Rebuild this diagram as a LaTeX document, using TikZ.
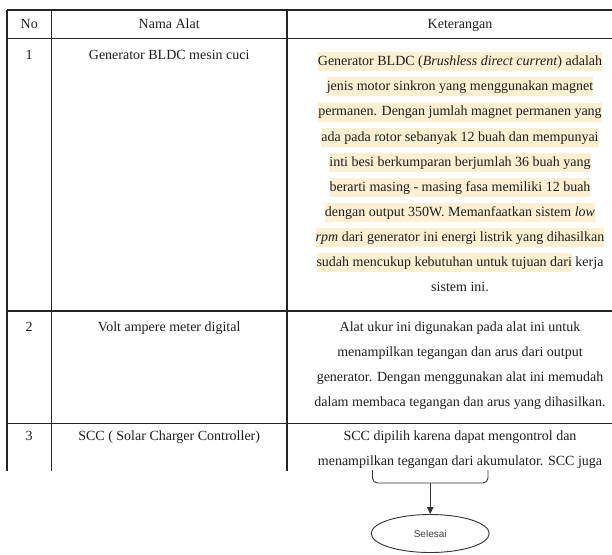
\documentclass[tikz,border=0pt]{standalone}
\usepackage{fontspec}
\setmainfont{Liberation Serif}
\setsansfont{Liberation Sans}
\usetikzlibrary{shapes.geometric,arrows.meta}
\definecolor{hlc}{HTML}{FCEFD2}
\definecolor{ink}{HTML}{1E1E1E}
% highlighted run of text, band 19pt tall around the baseline
\newcommand{\hlrun}[1]{{\setlength{\fboxsep}{0pt}\colorbox{hlc}{\rule[-5.6pt]{0pt}{19pt}#1}}}
\tikzset{
  grid/.style={line width=1.2pt, draw=black!85},
  cell/.style={anchor=base, inner sep=0pt, text=ink, font=\fontsize{14}{16}\selectfont},
  flow/.style={line width=0.9pt, draw=black!80},
  endbox/.style={ellipse, draw=black!80, line width=0.9pt, fill=white,
    minimum width=118pt, minimum height=38pt, inner sep=0pt,
    text=black!75, font=\sffamily\fontsize{10}{12}\selectfont},
}
\begin{document}
\begin{tikzpicture}[x=1pt,y=-1pt]
\useasboundingbox (0,0) rectangle (612,554);

% ---- table (cut off at the bottom) ----
\begin{scope}
  \clip (0,0) rectangle (612,470);
  % rules
  \foreach \yy in {10,38.5,311,423.5}
    \draw[grid] (7,\yy) -- (612,\yy);
  \foreach \xx in {7,51.5,287}
    \draw[grid] (\xx,10) -- (\xx,480);

  % header
  \node[cell] (hno)   at (29.2,28) {No};
  \node[cell] (hnama) at (169.2,28) {Nama Alat};
  \node[cell] (hket)  at (460,28) {Keterangan};

  % row 1
  \node[cell] (n1) at (29.2,59.5) {1};
  \node[cell] (a1) at (169.2,59.5) {Generator BLDC mesin cuci};
  \node[cell] (k1a) at (460,65.7)  {\hlrun{Generator BLDC (\textit{Brushless direct current}) adalah}};
  \node[cell] (k1b) at (460,90.8)  {\hlrun{jenis motor sinkron yang menggunakan magnet}};
  \node[cell] (k1c) at (460,115.9) {\hlrun{permanen. Dengan jumlah magnet permanen yang}};
  \node[cell] (k1d) at (460,141.0) {\hlrun{ada pada rotor sebanyak 12 buah dan mempunyai}};
  \node[cell] (k1e) at (460,166.1) {\hlrun{inti besi berkumparan berjumlah 36 buah yang}};
  \node[cell] (k1f) at (460,191.2) {\hlrun{berarti masing - masing fasa memiliki 12 buah}};
  \node[cell] (k1g) at (460,216.3) {\hlrun{dengan output 350W. Memanfaatkan sistem \textit{low}}};
  \node[cell] (k1h) at (460,241.4) {\hlrun{\textit{rpm} dari generator ini energi listrik yang dihasilkan}};
  \node[cell] (k1i) at (460,266.5) {\hlrun{sudah mencukup kebutuhan untuk tujuan dari} kerja};
  \node[cell] (k1j) at (460,291.6) {sistem ini.};

  % row 2
  \node[cell] (n2) at (29.2,331.5) {2};
  \node[cell] (a2) at (169.2,331.5) {Volt ampere meter digital};
  \node[cell] (k2a) at (460,331.2) {Alat ukur ini digunakan pada alat ini untuk};
  \node[cell] (k2b) at (460,356.3) {menampilkan tegangan dan arus dari output};
  \node[cell] (k2c) at (460,381.4) {generator. Dengan menggunakan alat ini memudah};
  \node[cell] (k2d) at (460,406.5) {dalam membaca tegangan dan arus yang dihasilkan.};

  % row 3
  \node[cell] (n3) at (29.2,440.5) {3};
  \node[cell] (a3) at (169.2,440.5) {SCC ( Solar Charger Controller)};
  \node[cell] (k3a) at (460,440.5) {SCC dipilih karena dapat mengontrol dan};
  \node[cell] (k3b) at (460,465.6) {menampilkan tegangan dari akumulator. SCC juga};
\end{scope}

% ---- flow end ----
\coordinate (bl) at (372.5,470);
\coordinate (br) at (488,470);
\coordinate (join) at (430.2,483);
\draw[flow, rounded corners=5pt] (bl) |- (join) -| (br);
\node[endbox] (stop) at (430.2,533.5) {Selesai};
\draw[flow, -{Triangle[length=7pt,width=6.5pt]}] (join) -- (stop.north);
\end{tikzpicture}
\end{document}
